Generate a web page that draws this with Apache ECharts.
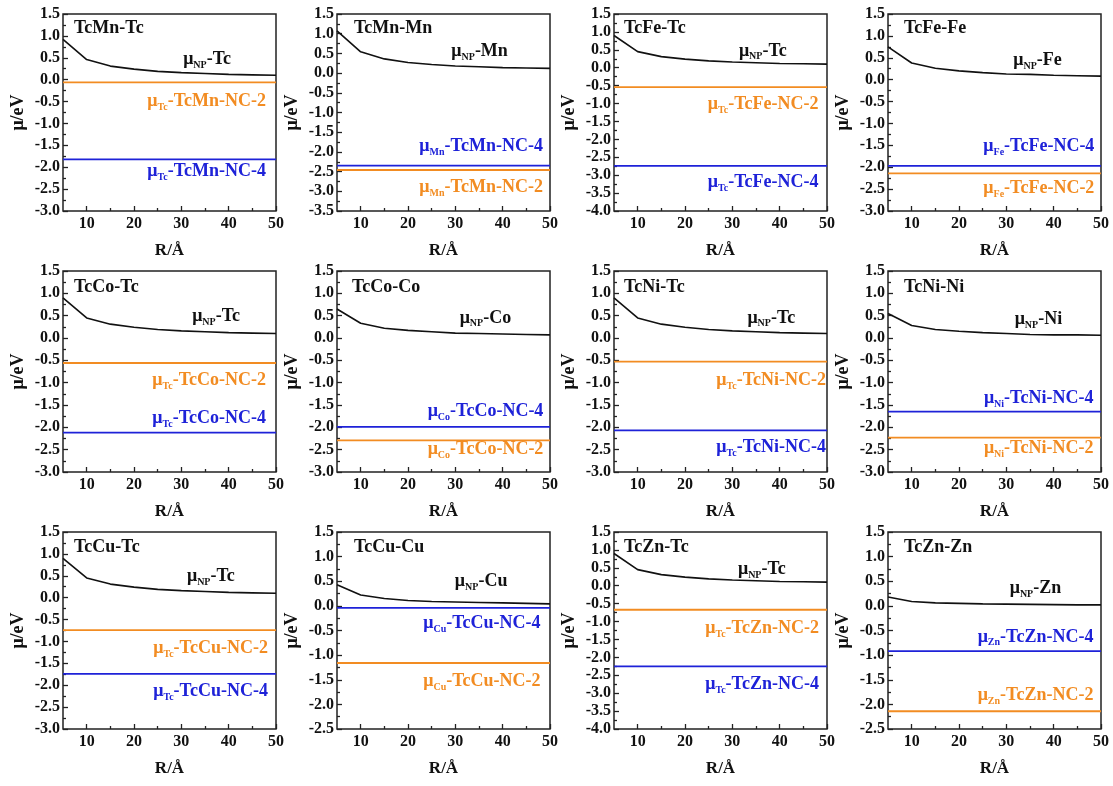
<!DOCTYPE html>
<html>
<head>
<meta charset="utf-8">
<script src="https://cdn.jsdelivr.net/npm/echarts@6/dist/echarts.min.js"></script>
<style>html,body{margin:0;padding:0;background:#fff}#c{width:1113px;height:786px}</style>
</head>
<body>
<div id="c"></div>
<script>
// ---------------- data ----------------
const R = [5, 10, 15, 20, 25, 30, 35, 40, 45, 50];
const xTicks = [10, 20, 30, 40, 50];
const xMinorTicks = [15, 25, 35, 45];

const panelTitles = ['TcMn-Tc','TcMn-Mn','TcFe-Tc','TcFe-Fe','TcCo-Tc','TcCo-Co','TcNi-Tc','TcNi-Ni','TcCu-Tc','TcCu-Cu','TcZn-Tc','TcZn-Zn'];
const npElem  = ['Tc','Mn','Tc','Fe','Tc','Co','Tc','Ni','Tc','Cu','Tc','Zn'];
const yMins   = [-3.0,-3.5,-4.0,-3.0,-3.0,-3.0,-3.0,-3.0,-3.0,-2.5,-4.0,-2.5];

const npTcMnTc = [0.92,0.46,0.31,0.24,0.19,0.16,0.14,0.12,0.11,0.10];
const npTcMnMn = [1.07,0.54,0.36,0.27,0.22,0.18,0.16,0.14,0.13,0.12];
const npTcFeTc = [0.90,0.45,0.31,0.24,0.19,0.16,0.14,0.12,0.11,0.10];
const npTcFeFe = [0.75,0.38,0.26,0.20,0.16,0.13,0.12,0.10,0.09,0.08];
const npTcCoTc = [0.90,0.45,0.31,0.24,0.19,0.16,0.14,0.12,0.11,0.10];
const npTcCoCo = [0.65,0.33,0.22,0.17,0.14,0.11,0.10,0.09,0.08,0.07];
const npTcNiTc = [0.90,0.45,0.31,0.24,0.19,0.16,0.14,0.12,0.11,0.10];
const npTcNiNi = [0.55,0.28,0.19,0.15,0.12,0.10,0.08,0.07,0.07,0.06];
const npTcCuTc = [0.90,0.45,0.31,0.24,0.19,0.16,0.14,0.12,0.11,0.10];
const npTcCuCu = [0.43,0.22,0.15,0.11,0.09,0.08,0.07,0.06,0.05,0.04];
const npTcZnTc = [0.90,0.45,0.31,0.24,0.19,0.16,0.14,0.12,0.11,0.10];
const npTcZnZn = [0.18,0.09,0.06,0.05,0.04,0.035,0.03,0.025,0.02,0.02];
const npValues = [npTcMnTc,npTcMnMn,npTcFeTc,npTcFeFe,npTcCoTc,npTcCoCo,npTcNiTc,npTcNiNi,npTcCuTc,npTcCuCu,npTcZnTc,npTcZnZn];

const nc2Values = [-0.06,-2.46,-0.54,-2.14,-0.56,-2.29,-0.53,-2.23,-0.74,-1.16,-0.67,-2.14];
const nc4Values = [-1.82,-2.35,-2.74,-1.97,-2.12,-1.99,-2.07,-1.65,-1.74,-0.04,-2.25,-0.92];

// ---------------- layout (text positions in data units, not data) ----------------
const colLefts = [63, 337, 614, 888];
const rowTops = [14, 271, 532];
const rowHeights = [197, 201, 197];
const plotW = 213;
const titleDx = [11,17,10,16,11,15,10,16,11,17,10,16];
const titleDy = [5,5,5,5,7,7,7,7,6,6,6,6];
// [xRight, yCenter] for each label
const npLabelPos  = [[40.5,0.46],[41.1,0.56],[41.5,0.47],[41.7,0.43],[42.4,0.49],[41.8,0.45],[43.3,0.45],[41.8,0.41],[41.3,0.49],[41.0,0.50],[41.3,0.45],[41.6,0.35]];
const nc2LabelPos = [[47.9,-0.49],[48.5,-2.89],[48.2,-1.03],[48.6,-2.49],[47.9,-0.94],[48.6,-2.49],[49.8,-0.94],[48.4,-2.48],[48.3,-1.15],[48.0,-1.53],[48.3,-1.19],[48.4,-1.81]];
const nc4LabelPos = [[47.9,-2.10],[48.5,-1.87],[48.2,-3.19],[48.6,-1.53],[47.9,-1.80],[48.6,-1.65],[49.8,-2.44],[48.4,-1.35],[48.3,-2.14],[48.0,-0.36],[48.3,-2.76],[48.4,-0.63]];

const FONT = '"Liberation Serif", "Times New Roman", serif';
const ORANGE = '#F28C22';
const BLUE = '#1E22D8';
const BLACK = '#111';

function rich(color) {
  return {
    m: {fontSize: 18, fontWeight: 'bold', fontFamily: FONT, color: color, lineHeight: 22, verticalAlign: 'middle'},
    s: {fontSize: 10, fontWeight: 'bold', fontFamily: FONT, color: color, lineHeight: 11, verticalAlign: 'bottom'}
  };
}
function markLabel(pos, text, color) {
  return {
    symbol: 'circle', symbolSize: 0, silent: true, animation: false,
    label: {show: true, position: 'left', distance: 0, formatter: text, rich: rich(color)},
    data: [{coord: pos}]
  };
}

const grids = [], xAxes = [], yAxes = [], series = [], titles = [];
for (let i = 0; i < 12; i++) {
  const r = Math.floor(i / 4), c = i % 4;
  grids.push({left: colLefts[c], top: rowTops[r], width: plotW, height: rowHeights[r],
    show: true, borderColor: '#222', borderWidth: 1.5, backgroundColor: 'transparent', containLabel: false});
  const axisLabelStyle = {fontFamily: FONT, fontWeight: 'bold', fontSize: 16, color: BLACK};
  const tickStyle = {color: '#222', width: 1.3};
  xAxes.push({gridIndex: i, type: 'value', min: 5, max: 50, position: 'bottom',
    axisLine: {show: false, onZero: false}, splitLine: {show: false},
    axisTick: {show: true, inside: true, length: 5, lineStyle: tickStyle, customValues: xTicks},
    axisLabel: Object.assign({margin: 5, customValues: xTicks}, axisLabelStyle),
    name: 'R/Å', nameLocation: 'middle', nameGap: 31,
    nameTextStyle: {fontFamily: FONT, fontWeight: 'bold', fontSize: 17, color: BLACK}});
  xAxes.push({gridIndex: i, type: 'value', min: 5, max: 50, position: 'bottom',
    axisLine: {show: false, onZero: false}, splitLine: {show: false},
    axisTick: {show: true, inside: true, length: 3, lineStyle: tickStyle, customValues: xMinorTicks},
    axisLabel: {show: false}});
  yAxes.push({gridIndex: i, type: 'value', min: yMins[i], max: 1.5, interval: 0.5,
    axisLine: {show: false, onZero: false}, splitLine: {show: false},
    axisTick: {show: true, inside: true, length: 5, lineStyle: tickStyle},
    minorTick: {show: true, splitNumber: 2, length: 3, lineStyle: tickStyle},
    axisLabel: Object.assign({margin: 3, formatter: v => v.toFixed(1)}, axisLabelStyle),
    name: 'μ/eV', nameLocation: 'middle', nameGap: 36,
    nameTextStyle: {fontFamily: FONT, fontWeight: 'bold', fontSize: 18, color: BLACK}});
  titles.push({text: panelTitles[i], left: colLefts[c] + titleDx[i], top: rowTops[r] + titleDy[i], padding: 0,
    textStyle: {fontFamily: FONT, fontWeight: 'bold', fontSize: 18, color: BLACK}});

  const host = panelTitles[i].split('-')[0];
  const el = npElem[i];
  series.push({type: 'line', xAxisIndex: 2 * i, yAxisIndex: i, symbol: 'none', smooth: false,
    lineStyle: {color: BLACK, width: 1.6}, data: R.map((x, k) => [x, npValues[i][k]]),
    markPoint: markLabel(npLabelPos[i], '{m|μ}{s|NP}{m|-' + el + '}', BLACK)});
  series.push({type: 'line', xAxisIndex: 2 * i, yAxisIndex: i, symbol: 'none',
    lineStyle: {color: ORANGE, width: 1.8}, data: [[R[0], nc2Values[i]], [R[R.length - 1], nc2Values[i]]],
    markPoint: markLabel(nc2LabelPos[i], '{m|μ}{s|' + el + '}{m|-' + host + '-NC-2}', ORANGE)});
  series.push({type: 'line', xAxisIndex: 2 * i, yAxisIndex: i, symbol: 'none',
    lineStyle: {color: BLUE, width: 1.8}, data: [[R[0], nc4Values[i]], [R[R.length - 1], nc4Values[i]]],
    markPoint: markLabel(nc4LabelPos[i], '{m|μ}{s|' + el + '}{m|-' + host + '-NC-4}', BLUE)});
}

const chart = echarts.init(document.getElementById('c'), null, {renderer: 'canvas'});
chart.setOption({animation: false, backgroundColor: '#fff', title: titles, grid: grids, xAxis: xAxes, yAxis: yAxes, series: series});
</script>
</body>
</html>
